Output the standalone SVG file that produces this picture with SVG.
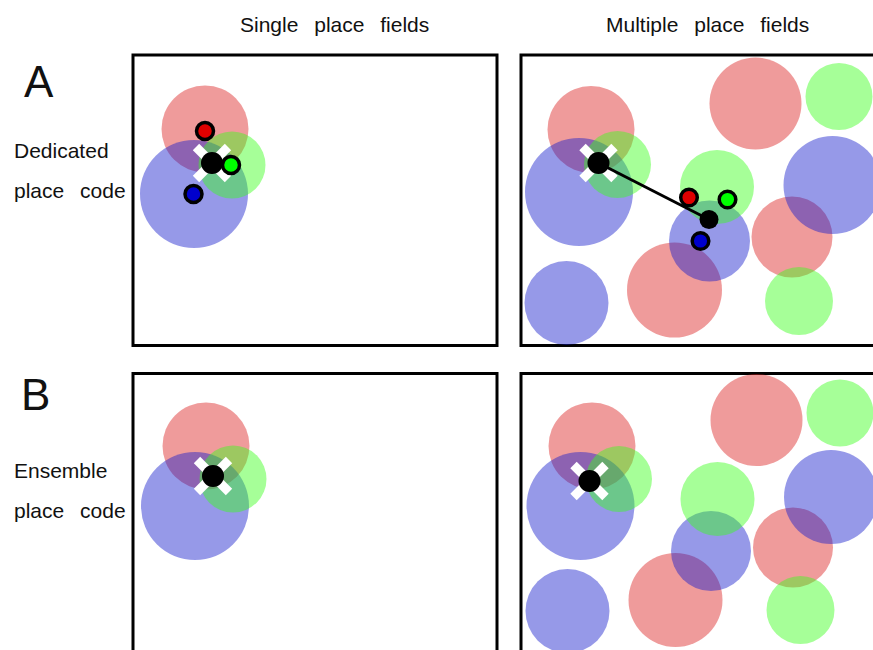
<svg xmlns="http://www.w3.org/2000/svg" width="873" height="650" viewBox="0 0 873 650">
<style>
text{font-family:"Liberation Sans",Arial,sans-serif;fill:#111;word-spacing:10px}
.t{font-size:21px}
.big{font-size:44px}
.box{fill:#fff;stroke:#000;stroke-width:3}
.r{fill:#dc2222;fill-opacity:0.45}
.g{fill:#39ff1a;fill-opacity:0.45}
.b{fill:#161ccc;fill-opacity:0.45}
.x{stroke:#fff;stroke-width:9}
.dot{stroke:#000;stroke-width:3.5}
</style>
<defs>
<g id="cross"><line class="x" x1="-16" y1="-16" x2="16" y2="16"/><line class="x" x1="-16" y1="16" x2="16" y2="-16"/><circle r="11" fill="#000"/></g>
</defs>
<rect width="873" height="650" fill="#fff"/>
<g id="labels">
<text class="t" x="240" y="31.5">Single place fields</text>
<text class="t" x="606" y="31.5">Multiple place fields</text>
<text class="big" x="24" y="97">A</text>
<text class="t" x="14" y="158">Dedicated</text>
<text class="t" x="14" y="198">place code</text>
<text class="big" x="21" y="410">B</text>
<text class="t" x="14" y="478">Ensemble</text>
<text class="t" x="14" y="518">place code</text>
</g>
<g id="panel-A-single">
<rect class="box" x="133" y="55" width="364" height="290.5"/>
<circle class="r" cx="205" cy="129" r="43.5"/>
<circle class="b" cx="194" cy="194" r="54"/>
<circle class="g" cx="232" cy="165" r="33.5"/>
<use href="#cross" x="212" y="163"/>
<circle class="dot" cx="205" cy="131" r="8.5" fill="#e00000"/>
<circle class="dot" cx="231" cy="165" r="8.5" fill="#00ff00"/>
<circle class="dot" cx="193.5" cy="194" r="8.5" fill="#0000cc"/>
</g>
<g id="panel-A-multiple">
<rect class="box" x="521" y="55" width="360" height="290.5"/>
<circle class="r" cx="591" cy="129.5" r="43.5"/>
<circle class="r" cx="755.5" cy="103.5" r="46"/>
<circle class="r" cx="792" cy="237" r="40.5"/>
<circle class="r" cx="674.5" cy="290" r="47.5"/>
<circle class="b" cx="579" cy="192" r="54"/>
<circle class="b" cx="832.5" cy="185" r="49"/>
<circle class="b" cx="709.5" cy="241" r="40.5"/>
<circle class="b" cx="566.5" cy="303" r="42"/>
<circle class="g" cx="617.5" cy="164.5" r="33.5"/>
<circle class="g" cx="839" cy="96.5" r="33.5"/>
<circle class="g" cx="717" cy="187" r="37"/>
<circle class="g" cx="799" cy="301" r="34"/>
<use href="#cross" x="598.5" y="163"/>
<circle class="dot" cx="689" cy="197.5" r="8.3" fill="#e00000"/>
<circle class="dot" cx="727.5" cy="199.5" r="8.3" fill="#00ff00"/>
<circle class="dot" cx="700.5" cy="241" r="8.3" fill="#0000cc"/>
<circle cx="709" cy="219.5" r="9.5" fill="#000"/>
</g>
<g id="panel-B-single">
<rect class="box" x="133" y="373.5" width="364" height="290"/>
<circle class="r" cx="206" cy="446" r="43.5"/>
<circle class="b" cx="195" cy="506" r="54"/>
<circle class="g" cx="233" cy="479" r="33.5"/>
<use href="#cross" x="213" y="476"/>
</g>
<g id="panel-B-multiple">
<rect class="box" x="521" y="373.5" width="360" height="290"/>
<circle class="r" cx="592" cy="446" r="43.5"/>
<circle class="r" cx="756.5" cy="420" r="46"/>
<circle class="r" cx="793" cy="547.5" r="40"/>
<circle class="r" cx="675.5" cy="600" r="47"/>
<circle class="b" cx="580.5" cy="506" r="54"/>
<circle class="b" cx="831" cy="497" r="47"/>
<circle class="b" cx="711" cy="551" r="40"/>
<circle class="b" cx="567.5" cy="611" r="42"/>
<circle class="g" cx="619" cy="479" r="33"/>
<circle class="g" cx="840" cy="413" r="33.5"/>
<circle class="g" cx="717.5" cy="499" r="37"/>
<circle class="g" cx="800.5" cy="610" r="34"/>
<use href="#cross" x="589.5" y="481"/>
</g>
<g id="connectors">
<line x1="598.5" y1="163" x2="709" y2="219.5" stroke="#000" stroke-width="3"/>
</g>
</svg>
